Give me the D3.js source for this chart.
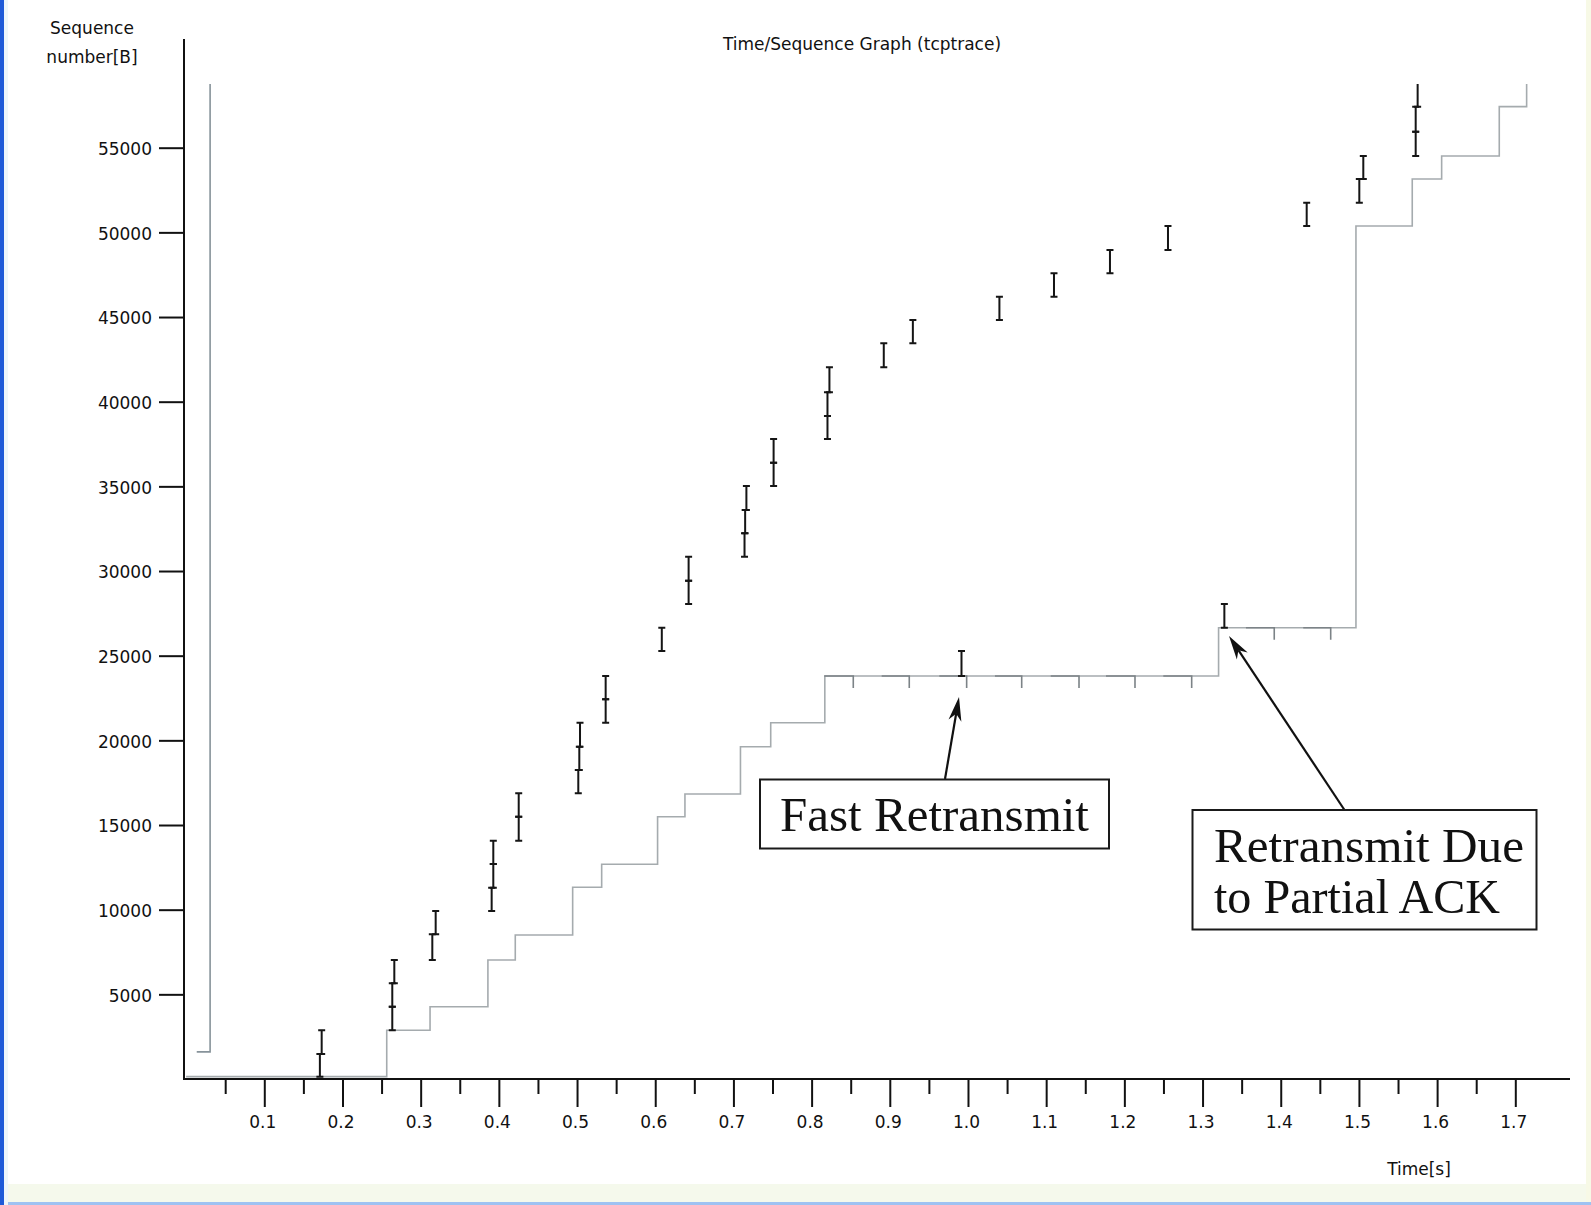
<!DOCTYPE html>
<html><head><meta charset="utf-8">
<script src="https://cdn.jsdelivr.net/npm/d3@7"></script>
<style>
html,body{margin:0;padding:0;background:#fff;overflow:hidden;}
svg{display:block;}
</style></head><body>
<svg id="chart" width="1591" height="1205"></svg>
<script>
// ---------------- data ----------------
const segTime = [0.014, 0.020, 0.1711, 0.1734, 0.2637, 0.2637, 0.2663, 0.3149, 0.3192, 0.3908, 0.3929, 0.3929,
  0.4254, 0.4254, 0.5016, 0.5029, 0.5038, 0.5366, 0.5366, 0.6084, 0.6427, 0.6427, 0.7142, 0.7150, 0.7166,
  0.7514, 0.7514, 0.8203, 0.8203, 0.8228, 0.8923, 0.9295, 0.9917, 1.0402, 1.1100, 1.1816, 1.2558, 1.3279,
  1.4332, 1.5005, 1.5056, 1.5726, 1.5726, 1.5751];
const segStart = [0, 0, 140, 1477, 2880, 4270, 5652, 7028, 8546, 9922, 11298, 12698,
  14074, 15491, 16873, 18250, 19626, 21043, 22421, 25278, 28054, 29430, 30847, 32229, 33605,
  35023, 36399, 37798, 39157, 40556, 42033, 43451, 23801, 44830, 46203, 47585, 48961, 26654,
  50378, 51754, 53153, 54511, 55948, 57424];
const segEnd = [0, 0, 1477, 2880, 4270, 5652, 7028, 8546, 9922, 11298, 12698, 14074,
  15491, 16873, 18250, 19626, 21043, 22421, 23801, 26654, 29430, 30847, 32229, 33605, 35023,
  36399, 37798, 39157, 40556, 42033, 43451, 44830, 25278, 46203, 47585, 48961, 50378, 28054,
  51754, 53153, 54511, 55948, 57424, 58900];

const ackTime = [0, 0.2566, 0.312, 0.386, 0.421, 0.4944, 0.5315, 0.603, 0.638, 0.709, 0.7477, 0.8169,
  1.3205, 1.4962, 1.5682, 1.6058, 1.6795, 1.7145];
const ackSeq = [140, 2880, 4270, 7028, 8505, 11321, 12680, 15490, 16832, 19626, 21043, 23801,
  26654, 50378, 53153, 54511, 57424, 60000];

const winTime = [0.0136, 0.0307, 0.0307];
const winSeq = [1600, 1600, 60000];

const dupStart = [0.8162, 0.8896, 0.9633, 1.0345, 1.1058, 1.1765, 1.2498, 1.3555, 1.4288];
const dupEnd   = [0.8533, 0.9249, 0.9983, 1.0687, 1.1420, 1.2136, 1.2861, 1.3917, 1.4639];
const dupSeq   = [23801, 23801, 23801, 23801, 23801, 23801, 23801, 26654, 26654];

const xTicks = [0.1,0.2,0.3,0.4,0.5,0.6,0.7,0.8,0.9,1.0,1.1,1.2,1.3,1.4,1.5,1.6,1.7];
const xTickLabels = ["0.1","0.2","0.3","0.4","0.5","0.6","0.7","0.8","0.9","1.0","1.1","1.2","1.3","1.4","1.5","1.6","1.7"];
const xMinorTicks = [0.05,0.15,0.25,0.35,0.45,0.55,0.65,0.75,0.85,0.95,1.05,1.15,1.25,1.35,1.45,1.55,1.65];
const yTicks = [5000,10000,15000,20000,25000,30000,35000,40000,45000,50000,55000];
const yTickLabels = ["5000","10000","15000","20000","25000","30000","35000","40000","45000","50000","55000"];

const titleText = "Time/Sequence Graph (tcptrace)";
const yLabelLines = ["Sequence", "number[B]"];
const xLabelText = "Time[s]";
const note1Lines = ["Fast Retransmit"];
const note2Lines = ["Retransmit Due", "to Partial ACK"];

// ---------------- layout ----------------
const svg = d3.select("#chart");
const W = 1591, H = 1205;
const x = d3.scaleLinear().domain([0, 1.7]).range([186.1, 1515.3]);
const y = d3.scaleLinear().domain([0, 55000]).range([1079, 147.7]);
const axisX0 = 184, axisY0 = 1079;

svg.append("rect").attr("width", W).attr("height", H).attr("fill", "#ffffff");
// window frame decorations
svg.append("rect").attr("x", 0).attr("y", 1184).attr("width", W).attr("height", 18).attr("fill", "#f5f9ec");
svg.append("rect").attr("x", 0).attr("y", 1202).attr("width", W).attr("height", 3).attr("fill", "#9ec2f2");
svg.append("rect").attr("x", 1586).attr("y", 0).attr("width", 5).attr("height", 1202).attr("fill", "#f7f9e6");
svg.append("rect").attr("x", 0).attr("y", 0).attr("width", 4).attr("height", H).attr("fill", "#1f5ad8");
svg.append("rect").attr("x", 4).attr("y", 0).attr("width", 4).attr("height", H).attr("fill", "#eef6fb");

const font = "'DejaVu Sans', sans-serif";

// clip
svg.append("defs").append("clipPath").attr("id", "plotclip")
  .append("rect").attr("x", 180).attr("y", 84).attr("width", 1400).attr("height", 1000);
const plot = svg.append("g").attr("clip-path", "url(#plotclip)");

// window line
const winLine = d3.line().x((d, i) => x(winTime[i])).y((d, i) => y(winSeq[i]));
plot.append("path").attr("d", winLine(winTime)).attr("fill", "none")
  .attr("stroke", "#87939a").attr("stroke-width", 1.6);

// ack step line
const ackLine = d3.line().curve(d3.curveStepAfter).x((d, i) => x(ackTime[i])).y((d, i) => y(ackSeq[i]));
plot.append("path").attr("d", ackLine(ackTime)).attr("fill", "none")
  .attr("stroke", "#a5abae").attr("stroke-width", 1.6);

// dup ack marks
plot.selectAll("path.dup").data(dupStart).join("path").attr("class", "dup")
  .attr("d", (d, i) => `M${x(dupStart[i])},${y(dupSeq[i])}H${x(dupEnd[i])}V${y(dupSeq[i]) + 12}`)
  .attr("fill", "none").attr("stroke", "#7c8387").attr("stroke-width", 1.6);

// segments (I-beams)
const segG = plot.append("g").attr("stroke", "#151515").attr("stroke-width", 2).attr("fill", "none");
segG.selectAll("path").data(segTime).join("path")
  .attr("d", (d, i) => {
    const xx = x(segTime[i]), y1 = y(segStart[i]), y2 = y(segEnd[i]);
    return `M${xx},${y1}V${y2}M${xx - 3.5},${y1}H${xx + 3.5}M${xx - 3.5},${y2}H${xx + 3.5}`;
  });

// axes
const axG = svg.append("g");
axG.append("line").attr("x1", axisX0).attr("x2", axisX0).attr("y1", 39).attr("y2", axisY0 + 1)
  .attr("stroke", "#111").attr("stroke-width", 2);
axG.append("line").attr("x1", axisX0).attr("x2", 1570).attr("y1", axisY0).attr("y2", axisY0)
  .attr("stroke", "#111").attr("stroke-width", 2);

const xAxis = d3.axisBottom(x).tickValues(xTicks).tickFormat((d, i) => xTickLabels[i])
  .tickSize(28).tickSizeOuter(0).tickPadding(9);
const gx = svg.append("g").attr("transform", `translate(0,${axisY0})`).call(xAxis);
gx.select(".domain").remove();
gx.selectAll(".tick line").attr("stroke", "#111").attr("stroke-width", 2);
gx.selectAll(".tick text").attr("font-family", font).attr("font-size", 17).attr("fill", "#111").attr("dx", -2);

const xMinor = d3.axisBottom(x).tickValues(xMinorTicks).tickFormat("").tickSize(15).tickSizeOuter(0);
const gxm = svg.append("g").attr("transform", `translate(0,${axisY0})`).call(xMinor);
gxm.select(".domain").remove();
gxm.selectAll(".tick line").attr("stroke", "#111").attr("stroke-width", 2);

const yAxis = d3.axisLeft(y).tickValues(yTicks).tickFormat((d, i) => yTickLabels[i])
  .tickSize(25).tickSizeOuter(0).tickPadding(7);
const gy = svg.append("g").attr("transform", `translate(${axisX0},0)`).call(yAxis);
gy.select(".domain").remove();
gy.selectAll(".tick line").attr("stroke", "#111").attr("stroke-width", 2);
gy.selectAll(".tick text").attr("font-family", font).attr("font-size", 17).attr("fill", "#111").attr("dy", "0.4em");

// labels
svg.append("text").attr("x", 862).attr("y", 50).attr("text-anchor", "middle")
  .attr("font-family", font).attr("font-size", 17).attr("fill", "#111").text(titleText);
svg.selectAll("text.ylab").data(yLabelLines).join("text").attr("class", "ylab")
  .attr("x", 92).attr("y", (d, i) => 34 + i * 29).attr("text-anchor", "middle")
  .attr("font-family", font).attr("font-size", 17).attr("fill", "#111").text(d => d);
svg.append("text").attr("x", 1419).attr("y", 1175).attr("text-anchor", "middle")
  .attr("font-family", font).attr("font-size", 17).attr("fill", "#111").text(xLabelText);

// annotations
const serif = "'Liberation Serif', 'Times New Roman', serif";
function arrow(x1, y1, x2, y2) {
  const g = svg.append("g");
  const ang = Math.atan2(y2 - y1, x2 - x1);
  const L = 24, hw = 6.5, notch = 17;
  const bx = x2 - L * Math.cos(ang), by = y2 - L * Math.sin(ang);
  const nx = x2 - notch * Math.cos(ang), ny = y2 - notch * Math.sin(ang);
  const px = -Math.sin(ang), py = Math.cos(ang);
  g.append("line").attr("x1", x1).attr("y1", y1).attr("x2", nx).attr("y2", ny)
    .attr("stroke", "#111").attr("stroke-width", 2.2);
  g.append("path").attr("d", `M${x2},${y2}L${bx + px * hw},${by + py * hw}L${nx},${ny}L${bx - px * hw},${by - py * hw}Z`)
    .attr("fill", "#111");
}
arrow(945, 779, 959, 697);
arrow(1344.5, 810, 1229, 636);

svg.append("rect").attr("x", 760).attr("y", 779.5).attr("width", 349).attr("height", 69)
  .attr("fill", "#fff").attr("stroke", "#1a1a1a").attr("stroke-width", 2);
svg.selectAll("text.n1").data(note1Lines).join("text").attr("class", "n1")
  .attr("x", 780).attr("y", 831).attr("font-family", serif).attr("font-size", 49)
  .attr("textLength", 309).attr("lengthAdjust", "spacingAndGlyphs")
  .attr("fill", "#111").text(d => d);

svg.append("rect").attr("x", 1192.5).attr("y", 810).attr("width", 344).attr("height", 119.5)
  .attr("fill", "#fff").attr("stroke", "#1a1a1a").attr("stroke-width", 2);
const n2Len = [310, 286];
svg.selectAll("text.n2").data(note2Lines).join("text").attr("class", "n2")
  .attr("x", 1214).attr("y", (d, i) => 862 + i * 51).attr("font-family", serif).attr("font-size", 49)
  .attr("textLength", (d, i) => n2Len[i]).attr("lengthAdjust", "spacingAndGlyphs")
  .attr("fill", "#111").text(d => d);
</script>
</body></html>
